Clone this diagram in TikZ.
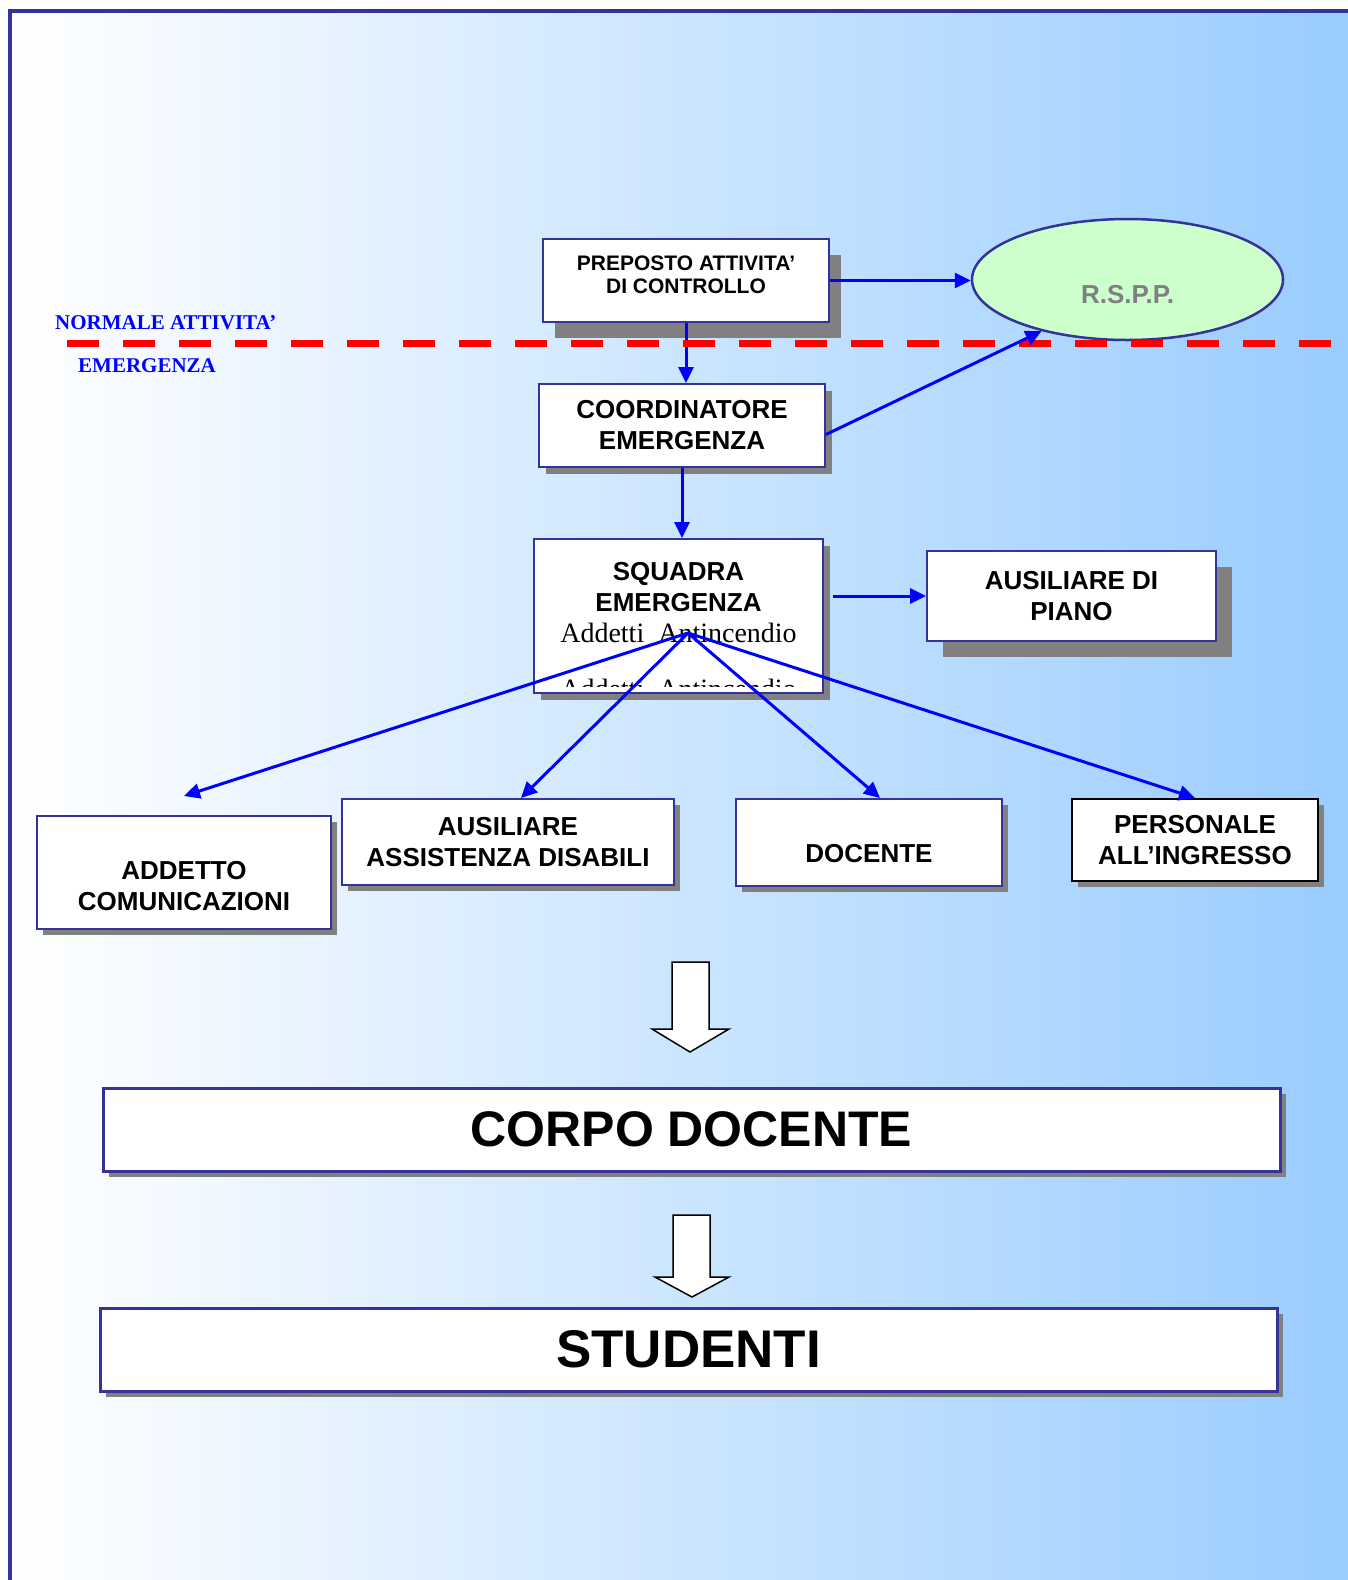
\documentclass[tikz,border=0pt]{standalone}
\usepackage{fontspec}
\setmainfont{Liberation Serif}
\newfontfamily\headfont{Liberation Sans}
\usetikzlibrary{shapes}
\usetikzlibrary{shadows}
\usetikzlibrary{arrows.meta}

\definecolor{frameblue}{RGB}{51,51,153}
\definecolor{skyblue}{RGB}{153,204,255}
\definecolor{shadowgray}{RGB}{128,128,128}
\definecolor{rsppgreen}{RGB}{204,255,204}
\definecolor{linkblue}{RGB}{0,0,255}

\begin{document}
\begin{tikzpicture}[x=1pt,y=-1pt,
    box/.style={draw=frameblue, line width=2pt, fill=white, inner sep=0pt, align=center,
      font=\headfont\bfseries\fontsize{26}{31}\selectfont},
    shadowsmall/.style={general shadow={fill=shadowgray, shadow xshift=6pt, shadow yshift=-6pt}},
    bigbox/.style={box, line width=3pt, minimum width=1177pt, minimum height=83pt, shadowsmall},
    link/.style={linkblue, line width=3pt, -{Triangle[length=16pt,width=15pt]}},
    blockarrow/.style={draw=black, line width=1.5pt, fill=white, line join=miter},
    zone/.style={linkblue, inner sep=0pt, anchor=base west, font=\bfseries\fontsize{21}{25}\selectfont}]
    \useasboundingbox (0,0) rectangle (1348,1580);
    \fill[white] (0,0) rectangle (1348,1580);
    \shade[left color=white, right color=skyblue] (10,11) rectangle (1348,1580);
    \draw[frameblue, line width=3.5pt] (10,1580) |- (1348,11);

    % vertici
    \node (preposto) at (686,280.5) [box, font=\headfont\bfseries\fontsize{21}{23}\selectfont,
      minimum width=286pt, minimum height=83pt,
      general shadow={fill=shadowgray, shadow xshift=12pt, shadow yshift=-16pt}]
      {PREPOSTO ATTIVITA’\\DI CONTROLLO\rule[-12pt]{0pt}{12pt}};
    \node (rspp) at (1127.5,279.5) [draw=frameblue, line width=2.5pt, fill=rsppgreen, ellipse,
      inner sep=0pt, minimum width=311pt, minimum height=121pt, text=shadowgray,
      font=\headfont\bfseries\fontsize{26}{31}\selectfont] {\rule{0pt}{49pt}R.S.P.P.};
    \node (coord) at (682,425.5) [box, general shadow={fill=shadowgray, shadow xshift=7pt, shadow yshift=-7pt},
      minimum width=286pt, minimum height=83pt] {COORDINATORE\\EMERGENZA};
    \node (squadra) at (678.5,616) [box, general shadow={fill=shadowgray, shadow xshift=7pt, shadow yshift=-7pt},
      minimum width=289pt, minimum height=154pt]
      {SQUADRA\\EMERGENZA\\{\rmfamily\mdseries\fontsize{28}{31}\selectfont Addetti\ \ Antincendio\rule[-27pt]{0pt}{27pt}}};
    \begin{scope}
      \clip (squadra.south west) ++(2,-8) rectangle (squadra.north east);
      \node (squadrahidden) at (678.5,698) [anchor=base, inner sep=0pt,
        font=\fontsize{28}{31}\selectfont] {Addetti\ \ Antincendio};
    \end{scope}
    \node (piano) at (1071.5,596) [box, minimum width=289pt, minimum height=90pt,
      general shadow={fill=shadowgray, shadow xshift=16pt, shadow yshift=-16pt}]
      {AUSILIARE DI\\PIANO};

    \node (addetto) at (184,872.5) [box, shadowsmall, minimum width=294pt, minimum height=113pt]
      {\rule{0pt}{15pt}\\ADDETTO\\COMUNICAZIONI};
    \node (ausdis) at (508,842) [box, shadowsmall, minimum width=332pt, minimum height=86pt]
      {AUSILIARE\\ASSISTENZA DISABILI};
    \node (docente) at (869,842.5) [box, shadowsmall, minimum width=266pt, minimum height=87pt]
      {\rule{0pt}{10pt}\\DOCENTE};
    \node (ingresso) at (1195,840) [box, draw=black, shadowsmall, minimum width=246pt, minimum height=82pt]
      {PERSONALE\\ALL’INGRESSO};

    \node (corpo) at (691.5,1129.5) [bigbox, font=\headfont\bfseries\fontsize{50}{60}\selectfont] {CORPO DOCENTE};
    \node (studenti) at (688.5,1349.5) [bigbox, font=\headfont\bfseries\fontsize{53}{64}\selectfont] {STUDENTI};

    % linea normale attivita' / emergenza
    \draw[link] (preposto.south) -- (preposto.south |- coord.north);
    \draw[red, line width=7pt, dash pattern=on 32pt off 24pt] (67,343) -- (1331,343);
    \node (normale) at (55,329) [zone] {NORMALE ATTIVITA’};
    \node (emerg) at (78,372) [zone] {EMERGENZA};

    % collegamenti
    \draw[link] (preposto.east) -- (preposto.east -| rspp.west);
    \draw[link] ([yshift=-9pt]coord.east) -- (rspp.211);
    \draw[link] (coord.south) -- (coord.south |- squadra.north);
    \draw[link, shorten <=9pt] (squadra.east |- piano.west) -- (piano.west);

    \coordinate (hub) at (688,633);
    \draw[link] (hub) -- ([yshift=19pt]addetto.north);
    \draw[link] (hub) -- ([xshift=13pt]ausdis.north);
    \draw[link] (hub) -- ([xshift=11pt]docente.north);
    \draw[link] (hub) -- (ingresso.north);

    % frecce verso il basso
    \draw[blockarrow] (672,962) -- (709,962) -- (709,1029) -- (729,1029) -- (690,1052)
      -- (652,1029) -- (672,1029) -- cycle;
    \draw[blockarrow] (673,1215) -- (710,1215) -- (710,1277) -- (729,1277) -- (692,1297)
      -- (655,1277) -- (673,1277) -- cycle;
\end{tikzpicture}
\end{document}
